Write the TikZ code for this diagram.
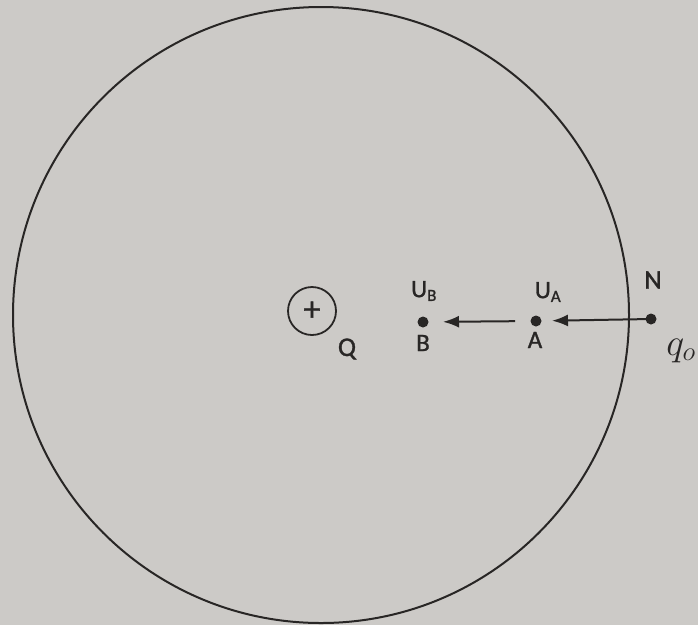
\RequirePackage{fix-cm}
\documentclass[tikz,border=0pt]{standalone}
\usepackage{fontspec}
\setmainfont{Carlito}
\newfontfamily\lblfont{Carlito}[FakeBold=1.2]
\usetikzlibrary{arrows.meta}
\definecolor{paper}{RGB}{204,202,199}
\definecolor{ink}{RGB}{40,38,37}
\tikzset{
  dot/.style={circle,fill=ink,inner sep=0pt,minimum size=11pt},
  lbl/.style={text=ink,inner sep=0pt,font=\lblfont\fontsize{25}{25}\selectfont},
  arr/.style={draw=ink,line width=2pt,-{Latex[length=16pt,width=12pt]}}
}
\begin{document}
\begin{tikzpicture}[x=1pt,y=-1pt]
\useasboundingbox (0,0) rectangle (698,625);
\fill[paper] (0,0) rectangle (698,625);
\draw[ink,line width=2pt] (321,315) circle[radius=308];
\node[draw=ink,line width=1.8pt,circle,minimum size=48pt,inner sep=0pt,text=ink,font=\lblfont\fontsize{34}{34}\selectfont] (Qc) at (312,311) {+};
\node[lbl,font=\lblfont\fontsize{27}{27}\selectfont] (Q) at (347,349) {Q};
\node[dot] (B) at (423,322) {};
\node[dot] (A) at (536,321) {};
\node[dot] (N) at (651,319) {};
\node[lbl] (UB) at (424,291) {U\textsubscript{\fontsize{17}{17}\selectfont B}};
\node[lbl] (UA) at (548,292) {U\textsubscript{\fontsize{17}{17}\selectfont A}};
\node[lbl] (Bl) at (423,343) {B};
\node[lbl] (Al) at (535,340) {A};
\node[lbl,font=\lblfont\fontsize{27}{27}\selectfont] (Nl) at (653,280) {N};
\node[lbl,font=\fontsize{38}{38}\selectfont,anchor=base] (q) at (681,355) {$q_o$};
\draw[arr,shorten <=21pt,shorten >=20pt] (A.center) -- (B.center);
\draw[arr,shorten >=16pt] (N.center) -- (A.center);
\end{tikzpicture}
\end{document}
